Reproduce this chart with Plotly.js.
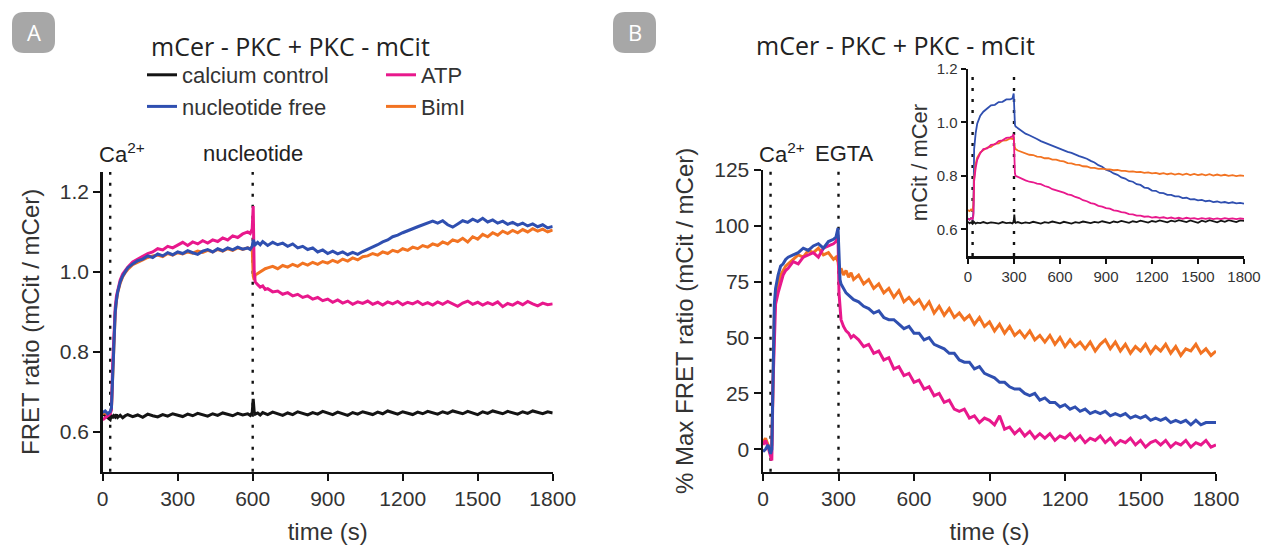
<!DOCTYPE html>
<html>
<head>
<meta charset="utf-8">
<script src="https://cdn.plot.ly/plotly-3.0.1.min.js"></script>
<style>html,body{margin:0;padding:0;background:#fff;}#chart{width:1262px;height:550px;}</style>
</head>
<body>
<div id="chart"></div>
<script>
// ---------- Panel A data (FRET ratio) ----------
const tA = [0,10,20,30,35,40,45,50,55,60,70,80,90,100,
  120,140,160,180,200,220,240,260,280,300,320,340,360,380,400,420,440,460,480,500,520,540,560,580,
  590,598,602,606,610,620,630,640,650,
  660,680,700,720,740,760,780,800,820,840,860,880,900,920,940,960,980,1000,1020,1040,1060,1080,1100,1120,1140,1160,1180,1200,
  1220,1240,1260,1280,1300,1320,1340,1360,1380,1400,1420,1440,1460,1480,1500,1520,1540,1560,1580,1600,1620,1640,1660,1680,1700,1720,1740,1760,1780,1800];
const aCalcium = [0.645,0.640,0.636,0.630,0.642,0.634,0.640,0.637,0.643,0.636,0.641,0.635,0.640,0.643,
  0.638,0.642,0.636,0.644,0.640,0.637,0.643,0.639,0.645,0.641,0.638,0.644,0.640,0.646,0.642,0.639,0.645,0.641,0.647,0.643,0.640,0.646,0.642,0.645,
  0.641,0.648,0.682,0.650,0.644,0.647,0.642,0.648,0.645,
  0.643,0.649,0.644,0.641,0.647,0.643,0.650,0.645,0.642,0.648,
  0.644,0.651,0.646,0.643,0.649,0.645,0.641,0.648,0.644,0.650,
  0.646,0.643,0.649,0.645,0.652,0.647,0.644,0.650,0.646,0.643,
  0.649,0.645,0.651,0.647,0.644,0.650,0.646,0.652,0.648,0.645,
  0.651,0.647,0.643,0.650,0.646,0.652,0.648,0.645,0.651,0.647,
  0.644,0.650,0.646,0.652,0.648,0.645,0.650,0.647];
const aFree = [0.648,0.652,0.645,0.650,0.660,0.760,0.850,0.900,0.930,0.950,0.975,0.990,1.000,1.010,
  1.020,1.028,1.032,1.040,1.036,1.045,1.040,1.048,1.043,1.050,1.046,1.053,1.048,1.044,1.052,1.056,1.050,1.058,1.053,1.060,1.055,1.062,1.057,1.060,
  1.056,1.064,1.080,1.072,1.068,1.074,1.068,1.076,1.070,
  1.066,1.074,1.068,1.072,1.064,1.070,1.060,1.064,1.056,1.060,
  1.050,1.055,1.046,1.052,1.045,1.050,1.043,1.049,1.044,1.051,
  1.056,1.062,1.068,1.075,1.080,1.088,1.092,1.098,1.104,1.108,
  1.113,1.118,1.122,1.127,1.122,1.128,1.118,1.112,1.120,1.128,
  1.124,1.132,1.126,1.134,1.125,1.130,1.122,1.127,1.119,1.124,
  1.117,1.122,1.115,1.120,1.113,1.118,1.110,1.114];
const aATP = [0.630,0.636,0.640,0.645,0.655,0.770,0.860,0.910,0.940,0.955,0.980,0.995,1.005,1.012,
  1.025,1.032,1.040,1.046,1.050,1.058,1.055,1.064,1.060,1.068,1.074,1.066,1.075,1.070,1.078,1.072,1.080,1.076,1.085,1.080,1.090,1.086,1.095,1.100,
  1.096,1.108,1.165,1.000,0.975,0.968,0.962,0.965,0.956,
  0.958,0.950,0.952,0.944,0.948,0.940,0.944,0.936,0.940,0.932,
  0.936,0.928,0.932,0.924,0.930,0.922,0.927,0.919,0.925,0.921,
  0.927,0.919,0.924,0.917,0.925,0.920,0.926,0.918,0.924,0.920,
  0.926,0.918,0.923,0.917,0.925,0.919,0.926,0.920,0.914,0.922,
  0.927,0.919,0.924,0.917,0.923,0.918,0.925,0.913,0.921,0.917,
  0.924,0.918,0.926,0.920,0.915,0.922,0.918,0.920];
const aBimI = [0.645,0.648,0.642,0.648,0.658,0.755,0.845,0.895,0.928,0.948,0.972,0.988,0.998,1.006,
  1.018,1.025,1.030,1.036,1.040,1.042,1.038,1.046,1.042,1.048,1.045,1.050,1.047,1.052,1.049,1.054,1.050,1.056,1.052,1.058,1.054,1.060,1.056,1.060,
  1.058,1.062,0.990,0.980,0.992,0.996,1.000,1.005,1.008,
  1.010,1.014,1.008,1.016,1.012,1.019,1.014,1.022,1.017,1.024,
  1.019,1.026,1.022,1.029,1.024,1.032,1.027,1.035,1.030,1.038,
  1.040,1.046,1.042,1.050,1.046,1.054,1.050,1.058,1.054,1.062,
  1.058,1.066,1.062,1.070,1.066,1.075,1.070,1.080,1.076,1.084,
  1.075,1.088,1.082,1.094,1.088,1.098,1.092,1.102,1.096,1.104,
  1.098,1.106,1.100,1.108,1.102,1.107,1.100,1.105];

// ---------- Panel B main data (% max FRET ratio) ----------
const tB = [0,10,20,30,35,40,45,50,60,70,80,90,100,
  120,140,160,180,200,220,240,260,280,290,298,302,306,310,320,330,340,350,360,
  380,400,420,440,460,480,500,520,540,560,580,600,620,640,660,680,700,720,740,760,
  780,800,820,840,860,880,900,920,940,960,980,1000,1020,1040,1060,1080,1100,1120,1140,1160,
  1180,1200,1220,1240,1260,1280,1300,1320,1340,1360,1380,1400,1420,1440,1460,1480,1500,1520,1540,1560,
  1580,1600,1620,1640,1660,1680,1700,1720,1740,1760,1780,1800];
const bFree = [-1,0,2,-2,0,40,65,72,78,82,83,85,86,
  87,88,90,89,91,92,90,93,94,95,99,82,76,74,72,70,69,68,67,
  66,64,63,61,62,59,58,58,56,54,55,52,52,49,50,47,46,45,43,43,
  40,39,39,36,37,34,33,32,30,30,28,27,27,25,24,25,22,23,21,21,
  19,20,18,19,17,18,16,17,16,17,15,16,15,16,14,15,14,15,13,14,
  13,14,12,13,12,13,11,13,11,12,12,12];
const bATP = [2,4,1,-3,-5,30,55,65,70,74,78,80,81,
  84,83,86,87,88,86,90,91,92,93,96,70,62,58,55,53,52,50,51,
  49,46,47,43,44,40,41,36,37,33,34,30,31,27,28,24,25,21,22,18,
  17,18,14,15,12,14,13,11,15,9,10,7,9,6,8,5,7,5,7,4,
  6,5,7,4,6,3,5,4,6,3,5,2,4,3,5,2,4,1,3,4,
  2,4,1,3,2,4,1,3,2,4,1,2];
const bBimI = [3,5,2,-1,2,35,60,68,74,78,80,82,83,
  85,87,86,89,88,90,87,88,85,86,84,80,79,81,78,80,77,79,76,
  78,74,76,72,74,70,72,68,71,66,68,65,67,63,66,61,64,60,63,59,
  61,58,60,56,59,55,57,53,56,52,55,51,53,50,53,49,51,48,51,47,
  50,46,49,46,48,45,48,44,47,49,45,48,44,47,43,46,44,47,43,46,
  44,47,43,46,42,45,44,47,43,45,42,44];

// ---------- Panel B inset data (mCit / mCer) ----------
const tI = [0,10,20,30,35,40,50,60,80,100,125,150,175,200,225,250,275,290,298,302,306,310,325,350,
  375,400,425,450,475,500,525,550,575,600,625,650,675,700,725,750,775,800,825,850,
  875,900,925,950,975,1000,1025,1050,1075,1100,1125,1150,1175,1200,1225,1250,1275,1300,1325,1350,
  1375,1400,1425,1450,1475,1500,1525,1550,1575,1600,1625,1650,1675,1700,1725,1750,1775,1800];
const iCalcium = [0.628,0.622,0.626,0.620,0.624,0.627,0.621,0.625,0.623,0.627,
  0.622,0.626,0.624,0.621,0.627,0.623,0.625,0.622,0.628,0.655,0.630,0.624,0.627,0.622,
  0.626,0.623,0.628,0.624,0.621,0.627,0.624,0.629,0.625,0.622,
  0.628,0.625,0.621,0.627,0.624,0.629,0.626,0.623,0.628,0.625,
  0.630,0.626,0.623,0.629,0.626,0.631,0.627,0.624,0.630,0.627,
  0.632,0.628,0.625,0.631,0.628,0.633,0.629,0.626,0.632,0.629,
  0.634,0.630,0.627,0.633,0.629,0.624,0.632,0.628,0.634,0.630,
  0.626,0.632,0.628,0.634,0.630,0.627,0.633,0.632];
const iFree = [0.640,0.636,0.642,0.638,0.660,0.900,0.960,0.995,1.025,1.040,
  1.052,1.064,1.066,1.076,1.077,1.086,1.086,1.090,1.108,1.000,0.992,0.985,0.978,0.968,
  0.958,0.952,0.946,0.938,0.930,0.924,0.917,0.912,0.905,0.900,
  0.895,0.890,0.886,0.879,0.874,0.869,0.864,0.856,0.850,0.840,
  0.834,0.823,0.818,0.809,0.804,0.794,0.790,0.781,0.778,0.769,
  0.766,0.756,0.754,0.745,0.744,0.736,0.735,0.729,0.729,0.723,
  0.723,0.717,0.718,0.712,0.713,0.708,0.710,0.705,0.707,0.702,
  0.704,0.700,0.702,0.698,0.701,0.697,0.699,0.696];
const iATP = [0.640,0.636,0.642,0.638,0.650,0.780,0.830,0.860,0.885,0.900,
  0.903,0.916,0.918,0.930,0.933,0.942,0.944,0.948,0.957,0.820,0.810,0.800,0.796,0.788,
  0.783,0.778,0.776,0.771,0.769,0.762,0.758,0.750,0.746,0.740,
  0.737,0.731,0.728,0.721,0.717,0.709,0.705,0.698,0.695,0.688,
  0.685,0.679,0.677,0.671,0.669,0.664,0.662,0.657,0.656,0.651,
  0.651,0.647,0.648,0.644,0.646,0.643,0.645,0.641,0.644,0.640,
  0.643,0.639,0.643,0.640,0.642,0.638,0.642,0.639,0.642,0.638,
  0.641,0.638,0.642,0.639,0.641,0.638,0.641,0.639];
const iBimI = [0.672,0.668,0.674,0.670,0.690,0.790,0.845,0.868,0.888,0.895,
  0.906,0.908,0.920,0.922,0.932,0.933,0.940,0.938,0.946,0.915,0.906,0.900,0.895,0.889,
  0.886,0.879,0.878,0.872,0.871,0.866,0.866,0.861,0.861,0.856,
  0.854,0.848,0.847,0.842,0.841,0.836,0.835,0.830,0.830,0.826,
  0.827,0.824,0.824,0.821,0.822,0.819,0.819,0.816,0.817,0.814,
  0.815,0.811,0.813,0.809,0.811,0.807,0.810,0.806,0.809,0.805,
  0.808,0.804,0.808,0.803,0.807,0.803,0.806,0.802,0.806,0.801,
  0.805,0.801,0.804,0.800,0.803,0.799,0.802,0.800];

const xTicks = [0,300,600,900,1200,1500,1800];
const yTicksA = [0.6,0.8,1.0,1.2];
const yTicksB = [0,25,50,75,100,125];
const yTicksI = [0.6,0.8,1.0,1.2];
const eventsA = [30,600];
const eventsB = [30,300];
const seriesNames = ['calcium control','nucleotide free','ATP','BimI'];
const titleText = 'mCer - PKC + PKC - mCit';

// ---------- styling ----------
const W = 1262, H = 550;
const C = {black:'#141414', blue:'#2f4fb0', pink:'#e8188c', orange:'#f27322'};
const FONT = 'Liberation Sans, Arial, Helvetica, sans-serif';
const TFONT = 'Open Sans, Noto Sans, sans-serif';
const px = v => v / W;
const py = v => 1 - v / H;

function line(x, y, color, w, xa, ya, extra) {
  return Object.assign({x: x, y: y, type: 'scatter', mode: 'lines', xaxis: xa, yaxis: ya,
    line: {color: color, width: w}, hoverinfo: 'skip', showlegend: false}, extra || {});
}

const traces = [
  line(tA, aCalcium, C.black, 3, 'x', 'y', {name: seriesNames[0], showlegend: true, legend: 'legend', legendrank: 1, legendgroup: 'g1'}),
  line(tA, aBimI, C.orange, 3, 'x', 'y', {name: seriesNames[3], showlegend: true, legend: 'legend2', legendrank: 2, legendgroup: 'g4'}),
  line(tA, aATP, C.pink, 3, 'x', 'y', {name: seriesNames[2], showlegend: true, legend: 'legend2', legendrank: 1, legendgroup: 'g3'}),
  line(tA, aFree, C.blue, 3, 'x', 'y', {name: seriesNames[1], showlegend: true, legend: 'legend', legendrank: 2, legendgroup: 'g2'}),
  line(tB, bBimI, C.orange, 3, 'x2', 'y2'),
  line(tB, bATP, C.pink, 3, 'x2', 'y2'),
  line(tB, bFree, C.blue, 3, 'x2', 'y2'),
  line(tI, iCalcium, C.black, 1.8, 'x3', 'y3'),
  line(tI, iFree, C.blue, 1.8, 'x3', 'y3'),
  line(tI, iBimI, C.orange, 1.8, 'x3', 'y3'),
  line(tI, iATP, C.pink, 1.8, 'x3', 'y3')
];

function xaxis(dom, anchor, fs, titleTxt) {
  const a = {domain: dom, anchor: anchor, range: [0, 1800], tickvals: xTicks, ticktext: xTicks.map(String),
    showline: true, linecolor: '#111', linewidth: 2.5, ticks: 'outside', ticklen: fs > 18 ? 7 : 5, tickwidth: 2, tickcolor: '#111',
    showgrid: false, zeroline: false, tickfont: {family: FONT, size: fs, color: '#333'}, fixedrange: true};
  if (titleTxt) a.title = {text: titleTxt, font: {family: FONT, size: 24, color: '#333'}, standoff: 14};
  return a;
}
function yaxis(dom, anchor, range, ticks, fmt, fs, titleTxt, tfs, standoff) {
  return {domain: dom, anchor: anchor, range: range, tickvals: ticks, ticktext: ticks.map(v => fmt(v)),
    showline: true, linecolor: '#111', linewidth: 2.5, ticks: 'outside', ticklen: fs > 18 ? 7 : 5, tickwidth: 2, tickcolor: '#111',
    showgrid: false, zeroline: false, tickfont: {family: FONT, size: fs, color: '#333'}, fixedrange: true,
    title: {text: titleTxt, font: {family: FONT, size: tfs, color: '#333'}, standoff: standoff}};
}

const f1 = v => v.toFixed(1);
const f0 = v => String(v);

function vline(x, xa, ya) {
  return {type: 'line', xref: xa, yref: ya + ' domain', x0: x, x1: x, y0: 0, y1: 1, layer: 'below',
    line: {color: '#111', width: 2.4, dash: '3px,8px'}};
}
function roundBox(x0, y0, x1, y1, r) {
  const X = v => px(v).toFixed(5), Y = v => py(v).toFixed(5);
  const p = 'M' + X(x0 + r) + ',' + Y(y0) + ' L' + X(x1 - r) + ',' + Y(y0) +
    ' Q' + X(x1) + ',' + Y(y0) + ' ' + X(x1) + ',' + Y(y0 + r) +
    ' L' + X(x1) + ',' + Y(y1 - r) + ' Q' + X(x1) + ',' + Y(y1) + ' ' + X(x1 - r) + ',' + Y(y1) +
    ' L' + X(x0 + r) + ',' + Y(y1) + ' Q' + X(x0) + ',' + Y(y1) + ' ' + X(x0) + ',' + Y(y1 - r) +
    ' L' + X(x0) + ',' + Y(y0 + r) + ' Q' + X(x0) + ',' + Y(y0) + ' ' + X(x0 + r) + ',' + Y(y0) + ' Z';
  return {type: 'path', xref: 'paper', yref: 'paper', path: p, fillcolor: '#a7a7a7', line: {width: 0}, layer: 'above'};
}
function txt(text, x, y, size, anchor, font, color) {
  return {text: text, xref: 'paper', yref: 'paper', x: px(x), y: py(y), xanchor: anchor || 'center', yanchor: 'middle',
    showarrow: false, font: {family: font || FONT, size: size, color: color || '#222'}};
}

const legendCommon = {orientation: 'v', xanchor: 'left', yanchor: 'top', bgcolor: 'rgba(0,0,0,0)',
  font: {family: FONT, size: 22, color: '#333'}, tracegroupgap: 5, itemwidth: 30, traceorder: 'normal'};

const layout = {
  width: W, height: H, margin: {l: 0, r: 0, t: 0, b: 0},
  paper_bgcolor: '#fff', plot_bgcolor: 'rgba(0,0,0,0)',
  showlegend: true,
  legend: Object.assign({}, legendCommon, {x: px(142), y: py(54)}),
  legend2: Object.assign({}, legendCommon, {x: px(381), y: py(54)}),
  xaxis: xaxis([px(102.7), px(552.7)], 'y', 21, 'time (s)'),
  yaxis: yaxis([1 - 471.7 / H, 1 - 172 / H], 'x', [0.5, 1.25], yTicksA, f1, 21, 'FRET ratio (mCit / mCer)', 24, 14),
  xaxis2: xaxis([px(763), px(1216)], 'y2', 21, 'time (s)'),
  yaxis2: yaxis([1 - 471.7 / H, 1 - 170 / H], 'x2', [-10, 125], yTicksB, f0, 21, '% Max FRET ratio (mCit / mCer)', 24, 14),
  xaxis3: xaxis([px(968), px(1244)], 'y3', 15, null),
  yaxis3: yaxis([1 - 256 / H, 1 - 69 / H], 'x3', [0.5, 1.2], yTicksI, f1, 15, 'mCit / mCer', 22, 3),
  shapes: [
    vline(eventsA[0], 'x', 'y'), vline(eventsA[1], 'x', 'y'),
    vline(eventsB[0], 'x2', 'y2'), vline(eventsB[1], 'x2', 'y2'),
    vline(eventsB[0], 'x3', 'y3'), vline(eventsB[1], 'x3', 'y3'),
    roundBox(12, 12, 55, 53, 12), roundBox(613, 12, 656, 53, 12)
  ],
  annotations: [
    txt('A', 33.5, 32.5, 22, 'center', TFONT, '#fff'),
    txt('B', 634.5, 32.5, 22, 'center', TFONT, '#fff'),
    txt(titleText, 290, 46, 25, 'center', TFONT, '#222'),
    txt(titleText, 895, 45, 25, 'center', TFONT, '#222'),
    txt('Ca<sup>2+</sup>', 97, 153, 22, 'left'),
    txt('nucleotide', 253, 153, 22, 'center'),
    txt('Ca<sup>2+</sup>', 757, 153, 22, 'left'),
    txt('EGTA', 845, 153, 22, 'center')
  ]
};

Plotly.newPlot('chart', traces, layout, {displayModeBar: false, staticPlot: true});
</script>
</body>
</html>
